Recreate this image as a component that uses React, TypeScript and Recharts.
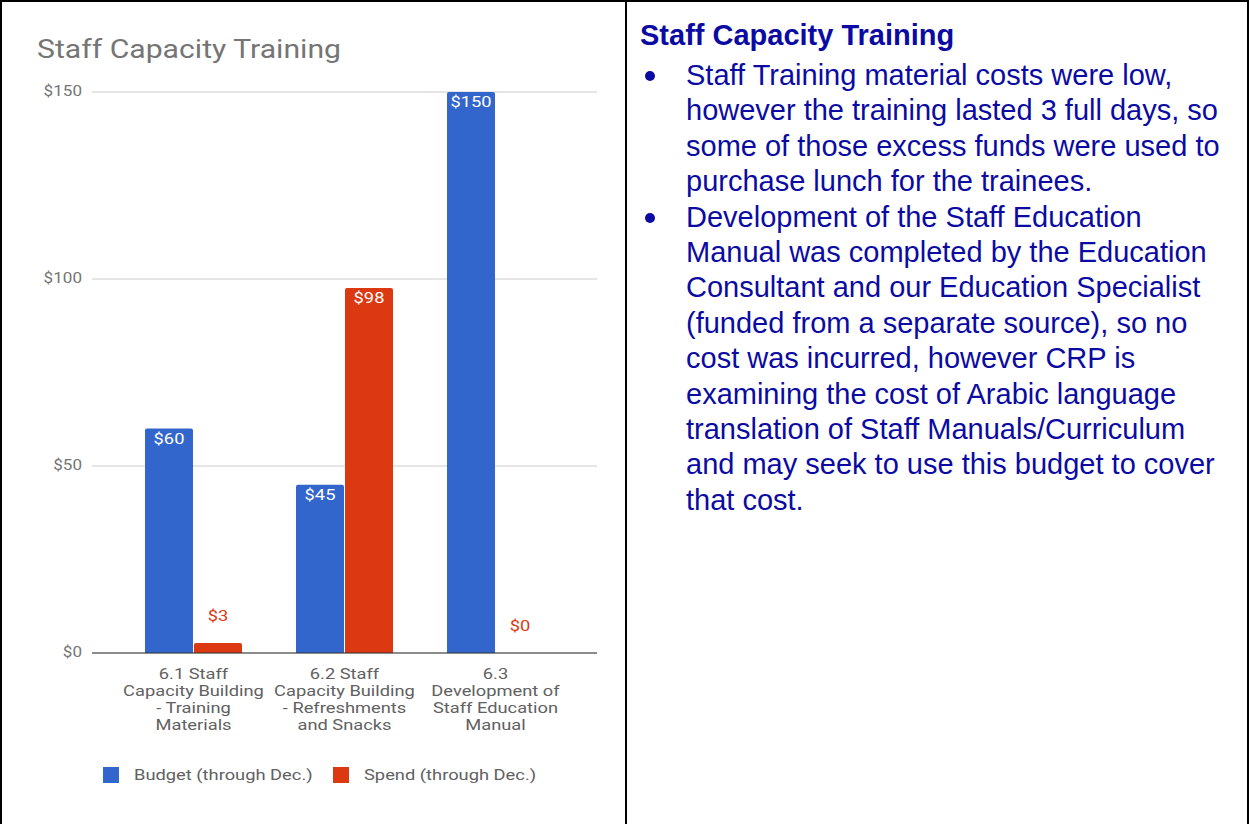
import React from 'react';
import { BarChart, Bar, XAxis, YAxis, CartesianGrid, Legend } from 'recharts';

const categories = [
  '6.1 Staff|Capacity Building|- Training|Materials',
  '6.2 Staff|Capacity Building|- Refreshments|and Snacks',
  '6.3|Development of|Staff Education|Manual',
];
const budget = [60, 45, 150];
const spend = [2.7, 97.6, 0];
const yTicks = [0, 50, 100, 150];
const seriesNames = ['Budget (through Dec.)', 'Spend (through Dec.)'];

const notes = [
  'Staff Training material costs were low, however the training lasted 3 full days, so some of those excess funds were used to purchase lunch for the trainees.',
  'Development of the Staff Education Manual was completed by the Education Consultant and our Education Specialist (funded from a separate source), so no cost was incurred, however CRP is examining the cost of Arabic language translation of Staff Manuals/Curriculum and may seek to use this budget to cover that cost.',
];

const BLUE = '#3366cc';
const RED = '#dc3912';
const FONT = 'Roboto, sans-serif';
const TEXT_BLUE = '#0b0ba3';
const SX = 1.22; // chart text is a little stretched sideways

const data = categories.map((c, i) => ({ name: c, budget: budget[i], spend: spend[i] }));

// svg text stretched horizontally around its anchor point
const WideText = ({ x, y, anchor = 'middle', fill, size = 15, children }: any) => (
  <g transform={`translate(${x},${y}) scale(${SX},1)`}>
    <text x={0} y={0} textAnchor={anchor} dominantBaseline="central" fill={fill} fontSize={size} fontFamily={FONT}>
      {children}
    </text>
  </g>
);

const CategoryTick = ({ x, y, payload }: any) => {
  const lines = String(payload.value).split('|');
  return (
    <g>
      {lines.map((l, i) => (
        <WideText key={i} x={x} y={y + 13 + i * 17} fill="#616161">{l}</WideText>
      ))}
    </g>
  );
};

const ValueTick = ({ x, y, payload }: any) => (
  <WideText x={x - 2} y={y} anchor="end" fill="#757575" size={14}>{`$${payload.value}`}</WideText>
);

const makeShape = (color: string) => (props: any) => {
  const { x, y, width, height, value } = props;
  const v = Array.isArray(value) ? value[1] - value[0] : value;
  const txt = `$${Math.round(v)}`;
  const cx = x + width / 2;
  const r = Math.min(2, height / 2);
  return (
    <g>
      {height > 0 && (
        <path
          d={`M${x},${y + height} L${x},${y + r} Q${x},${y} ${x + r},${y} L${x + width - r},${y} Q${x + width},${y} ${x + width},${y + r} L${x + width},${y + height} Z`}
          fill={color}
        />
      )}
      {height < 30 ? (
        <WideText x={cx} y={y - 27} fill={color}>{txt}</WideText>
      ) : (
        <WideText x={cx} y={y + 10} fill="#ffffff">{txt}</WideText>
      )}
    </g>
  );
};

const LegendBox = () => (
  <div style={{ display: 'flex', alignItems: 'center', fontFamily: FONT, fontSize: 15, color: '#616161' }}>
    {seriesNames.map((n, i) => (
      <div key={n} style={{ display: 'flex', alignItems: 'center', marginRight: 23 }}>
        <span style={{ display: 'inline-block', width: 16, height: 16, background: i === 0 ? BLUE : RED, marginRight: 15 }} />
        <span style={{ display: 'inline-block', transform: `scaleX(${SX})`, transformOrigin: 'left center', marginRight: 30, whiteSpace: 'nowrap' }}>{n}</span>
      </div>
    ))}
  </div>
);

export default function App() {
  return (
    <div style={{ position: 'relative', width: 1249, height: 824, background: '#fff', overflow: 'hidden' }}>
      <style>{`body{margin:0}`}</style>
      <div style={{ position: 'absolute', left: 0, top: 0, width: 1249, height: 2, background: '#000' }} />
      <div style={{ position: 'absolute', left: 0, top: 0, width: 2, height: 824, background: '#000' }} />
      <div style={{ position: 'absolute', left: 625, top: 0, width: 2, height: 824, background: '#000' }} />
      <div style={{ position: 'absolute', left: 1247, top: 0, width: 2, height: 824, background: '#000' }} />

      <div style={{ position: 'absolute', left: 37, top: 34, fontFamily: FONT, fontSize: 26, color: '#757575', lineHeight: '30px', transform: 'scaleX(1.16)', transformOrigin: 'left top', whiteSpace: 'nowrap' }}>
        Staff Capacity Training
      </div>

      <div style={{ position: 'absolute', left: 0, top: 0 }}>
        <BarChart
          width={620}
          height={824}
          data={data}
          margin={{ top: 92, right: 23, left: 16, bottom: 81 }}
          barGap={1}
          barCategoryGap={27}
        >
          <CartesianGrid vertical={false} stroke="#cccccc" />
          <XAxis
            dataKey="name"
            tick={<CategoryTick />}
            tickLine={false}
            axisLine={{ stroke: '#333333' }}
            interval={0}
            height={90}
            padding={{ left: 26, right: 26 }}
          />
          <YAxis
            domain={[0, 150]}
            ticks={yTicks}
            tick={<ValueTick />}
            axisLine={false}
            tickLine={false}
            width={76}
          />
          <Legend
            layout="horizontal"
            verticalAlign="middle"
            align="center"
            wrapperStyle={{ position: 'absolute', top: 766, left: 103, width: 480 }}
            content={<LegendBox />}
          />
          <Bar dataKey="budget" name={seriesNames[0]} fill={BLUE} shape={makeShape(BLUE)} isAnimationActive={false} />
          <Bar dataKey="spend" name={seriesNames[1]} fill={RED} shape={makeShape(RED)} isAnimationActive={false} />
        </BarChart>
      </div>

      <div style={{ position: 'absolute', left: 640, top: 16, width: 600, fontFamily: '"Liberation Sans", Arial, sans-serif', color: TEXT_BLUE, fontSize: 29, lineHeight: '35.4px' }}>
        <div style={{ fontWeight: 'bold', lineHeight: '38px', marginBottom: 4 }}>Staff Capacity Training</div>
        {notes.map((n, i) => (
          <div key={i} style={{ position: 'relative', paddingLeft: 46, width: 555 }}>
            <span style={{ position: 'absolute', left: 5, top: 13, width: 10, height: 10, borderRadius: 5, background: TEXT_BLUE }} />
            {n}
          </div>
        ))}
      </div>
    </div>
  );
}
